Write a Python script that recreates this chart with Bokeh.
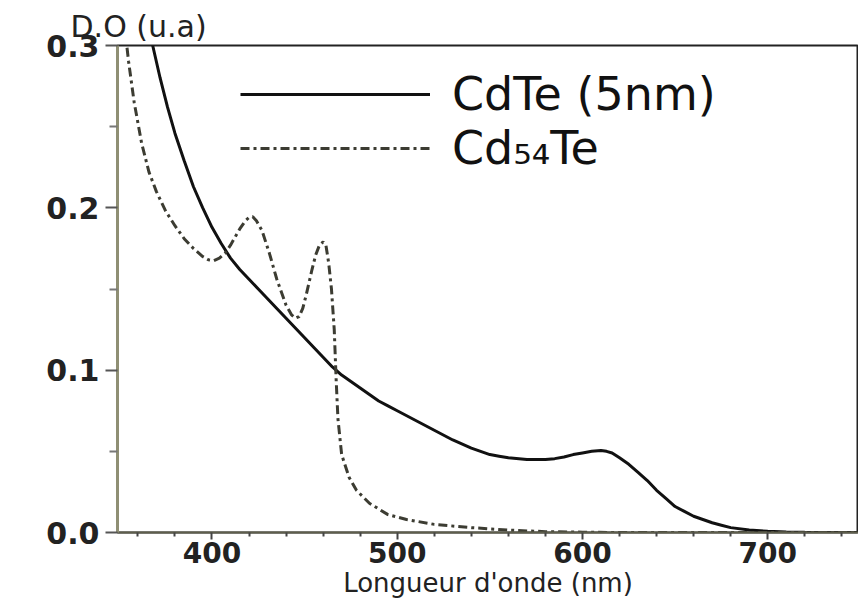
from bokeh.plotting import figure
from bokeh.models import Range1d, FixedTicker, PrintfTickFormatter, Legend, LegendItem
from bokeh.embed import file_html
from bokeh.resources import INLINE

# Absorption spectra (optical density, arbitrary units) vs wavelength in nm
cdte_wl = [360, 364, 368, 372, 376, 380, 385, 390, 395, 400, 405, 410, 415, 420,
           425, 430, 435, 440, 445, 450, 455, 460, 465, 470, 475, 480, 485, 490,
           495, 500, 510, 520, 530, 540, 545, 550, 555, 560, 570, 580, 585, 590,
           595, 600, 605, 610, 613, 616, 620, 625, 630, 635, 640, 645, 650, 655,
           660, 665, 670, 675, 680, 690, 700, 710, 720, 735, 750]
cdte_od = [0.36, 0.325, 0.30, 0.28, 0.262, 0.246, 0.229, 0.213, 0.200, 0.188,
           0.178, 0.169, 0.162, 0.156, 0.150, 0.144, 0.138, 0.132, 0.126, 0.120,
           0.114, 0.108, 0.102, 0.097, 0.093, 0.089, 0.085, 0.081, 0.078, 0.075,
           0.069, 0.063, 0.057, 0.052, 0.050, 0.048, 0.047, 0.046, 0.045, 0.045,
           0.0455, 0.0465, 0.048, 0.049, 0.050, 0.0505, 0.050, 0.049, 0.046,
           0.042, 0.037, 0.032, 0.026, 0.021, 0.016, 0.013, 0.010, 0.008, 0.006,
           0.0045, 0.003, 0.0015, 0.0007, 0.0003, 0.0001, 0.0, 0.0]

cd54_wl = [350, 353, 355, 358, 362, 366, 370, 375, 380, 385, 390, 395, 398, 401,
           404, 407, 410, 415, 418, 420, 422, 424, 427, 431, 435, 440, 443, 445,
           447, 449, 451, 454, 456, 458, 460, 461.5, 463, 464.5, 466, 467, 468,
           470, 474, 478, 485, 495, 505, 520, 540, 560, 580, 600, 620, 750]
cd54_od = [0.36, 0.31, 0.29, 0.265, 0.24, 0.222, 0.210, 0.198, 0.189, 0.181, 0.175,
           0.170, 0.168, 0.1675, 0.169, 0.172, 0.177, 0.187, 0.192, 0.194, 0.1945,
           0.192, 0.186, 0.172, 0.156, 0.140, 0.134, 0.132, 0.133, 0.138, 0.147,
           0.162, 0.171, 0.177, 0.179, 0.177, 0.166, 0.150, 0.125, 0.095, 0.070,
           0.048, 0.034, 0.026, 0.018, 0.011, 0.008, 0.005, 0.003, 0.0015, 0.0005,
           0.0002, 0.0, 0.0]

x_ticks = [400, 500, 600, 700]
x_minor = [360, 380, 420, 440, 460, 480, 520, 540, 560, 580, 620, 640, 660, 680, 720, 740]
y_ticks = [0.0, 0.1, 0.2, 0.3]
y_minor = [0.05, 0.15, 0.25]

FONT = "DejaVu Sans"

p = figure(width=858, height=606, output_backend="svg", toolbar_location=None,
           x_range=Range1d(349, 749), y_range=Range1d(0, 0.3),
           min_border_left=117, min_border_right=0, min_border_top=45,
           min_border_bottom=74)
p.background_fill_color = "white"
p.border_fill_color = "white"
p.grid.visible = False
p.outline_line_color = "#222222"
p.outline_line_width = 2

# y-axis title shown above the frame
p.title.text = "D.O (u.a)"
p.title.align = "left"
p.title.offset = -47
p.title.text_font = FONT
p.title.text_font_style = "normal"
p.title.text_font_size = "30px"
p.title.text_color = "#222222"
p.title.standoff = 4

xa = p.xaxis[0]
xa.ticker = FixedTicker(ticks=x_ticks, minor_ticks=x_minor)
xa.axis_label = "Longueur d'onde (nm)"
xa.axis_label_text_font = FONT
xa.axis_label_text_font_style = "normal"
xa.axis_label_text_font_size = "26px"
xa.axis_label_text_color = "#222222"
xa.axis_label_standoff = 2
xa.major_label_text_font = FONT
xa.major_label_text_font_style = "bold"
xa.major_label_text_font_size = "28px"
xa.major_label_text_color = "#222222"
xa.major_label_standoff = 2
xa.axis_line_color = "#5e5e4c"
xa.axis_line_width = 2
xa.major_tick_in = 0
xa.major_tick_out = 7
xa.minor_tick_in = 0
xa.minor_tick_out = 4
xa.major_tick_line_color = "#444444"
xa.minor_tick_line_color = "#444444"
xa.major_tick_line_width = 2
xa.minor_tick_line_width = 2

ya = p.yaxis[0]
ya.ticker = FixedTicker(ticks=y_ticks, minor_ticks=y_minor)
ya.formatter = PrintfTickFormatter(format="%.1f")
ya.major_label_text_font = FONT
ya.major_label_text_font_style = "bold"
ya.major_label_text_font_size = "30px"
ya.major_label_text_color = "#222222"
ya.major_label_standoff = 6
ya.axis_line_color = "#8f8f74"
ya.axis_line_width = 3
ya.major_tick_in = 0
ya.major_tick_out = 12
ya.minor_tick_in = 0
ya.minor_tick_out = 8
ya.major_tick_line_color = "#555555"
ya.minor_tick_line_color = "#777777"
ya.major_tick_line_width = 2
ya.minor_tick_line_width = 2

r_cdte = p.line(cdte_wl, cdte_od, line_color="#111111", line_width=3)
r_cd54 = p.line(cd54_wl, cd54_od, line_color="#3c3c32", line_width=3,
                line_dash="9 4 3 4")

legend = Legend(items=[LegendItem(label="CdTe (5nm)", renderers=[r_cdte]),
                       LegendItem(label="Cd\u2085\u2084Te", renderers=[r_cd54])],
                location=(123, 357), orientation="vertical",
                glyph_width=190, glyph_height=44, label_height=44,
                label_standoff=22, spacing=0, padding=0, margin=0,
                border_line_color=None, background_fill_alpha=0,
                label_text_font=FONT, label_text_font_size="46px",
                label_text_color="#111111")
p.add_layout(legend, "center")

open("out.html", "w").write(file_html(p, INLINE))
